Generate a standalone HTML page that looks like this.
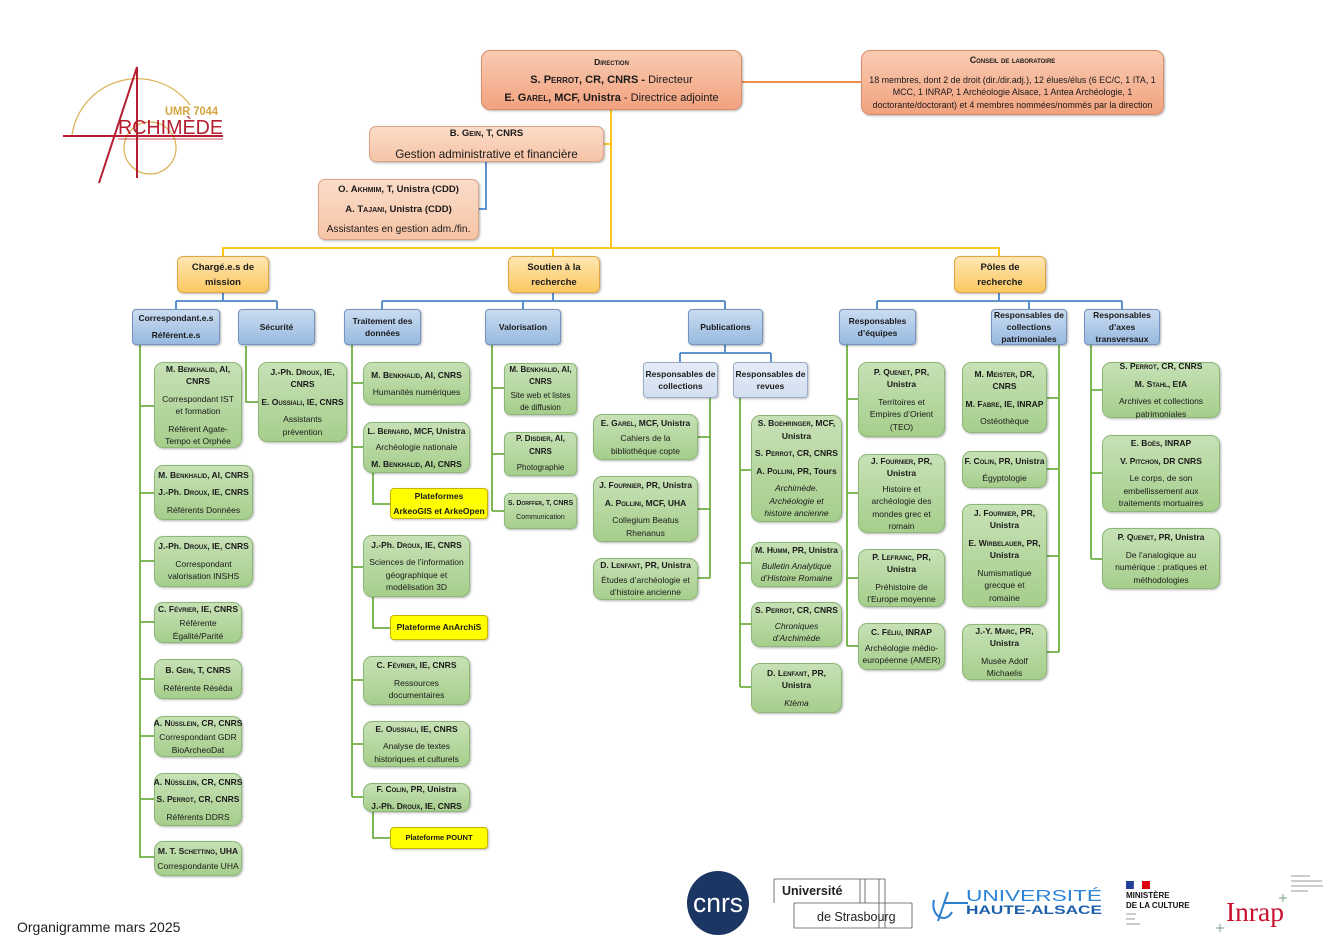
<!DOCTYPE html>
<html><head><meta charset="utf-8">
<style>
html,body{margin:0;padding:0;background:#fff}
#pg{position:relative;width:1340px;height:948px;overflow:hidden;background:#fff;font-family:"Liberation Sans",sans-serif;color:#1a1a1a}
.box{position:absolute;box-sizing:border-box;display:flex;flex-direction:column;justify-content:center;align-items:center;text-align:center;white-space:nowrap;padding:0 1px}
.box p{margin:0;line-height:12.5px;font-size:8.5px}
.box p+p{margin-top:5px}
.sc{font-variant:small-caps}
.g{background:linear-gradient(#c7e1b6,#a6ce8c);border:1px solid #8cb877;border-radius:9px;box-shadow:1px 1px 2px rgba(0,0,0,.3)}
.b{background:linear-gradient(#cadcf1,#98b9e0);border:1px solid #7393c0;border-radius:4px;box-shadow:1px 1px 2px rgba(0,0,0,.3);font-weight:bold}
.b p{font-size:8.5px;line-height:12.5px}
.lb{background:linear-gradient(#e4ebf6,#d3dff0);border:1px solid #98abc9;border-radius:4px;box-shadow:1px 1px 2px rgba(0,0,0,.25);font-weight:bold}
.o{background:linear-gradient(#fee6b2,#fbc861);border:1px solid #e0a646;border-radius:6px;box-shadow:1px 1px 2px rgba(0,0,0,.3);font-weight:bold}
.o p{font-size:9.5px;line-height:15px}
.y{background:#ffff00;border:1px solid #c8b400;border-radius:4px;box-shadow:1px 1px 2px rgba(0,0,0,.25);font-weight:bold}
.s{background:linear-gradient(#f9cbb2,#f2a27f);border:1px solid #d88e6a;border-radius:9px;box-shadow:1px 1px 2px rgba(0,0,0,.3)}
.s2{background:linear-gradient(#fbdcc9,#f6c4a6);border:1px solid #d9a487;border-radius:7px;box-shadow:1px 1px 2px rgba(0,0,0,.3)}
</style></head><body><div id="pg">

<svg width="1340" height="948" style="position:absolute;left:0;top:0" fill="none">
<path d="M741 82H862" stroke="#ed7d31" stroke-width="1.8"/>
<path d="M611 110V248 M604 144H611 M222 248H1000 M223 248V256 M553 248V256 M999 248V256" stroke="#ffc000" stroke-width="1.8"/>
<path d="M486 162V209H479 M223 293V301 M176 301H277 M176 301V310 M277 301V310 M553 293V301 M382 301H725 M382 301V310 M523 301V310 M725 301V310 M999 293V301 M877 301H1122 M877 301V310 M1029 301V310 M1122 301V310 M725 345V353 M680 353H771 M680 353V362 M771 353V362" stroke="#4a86c8" stroke-width="1.8"/>
<path d="M140 345V858 M140 406H154 M140 493H154 M140 561H154 M140 622H154 M140 679H154 M140 736H154 M140 799H154 M140 857H154
M246 346V402H258
M352 345V797 M352 383H363 M352 447H363 M352 567H363 M352 680H363 M352 744H363 M352 797H363
M373 473V504H390 M373 597V628H390 M373 812V838H390
M492 345V511 M492 388H504 M492 454H504 M492 511H504
M710 398V578 M698 437H710 M698 509H710 M698 578H710
M740 398V687 M740 470H751 M740 563H751 M740 624H751 M740 687H751
M847 345V646 M847 399H858 M847 493H858 M847 578H858 M847 646H858
M1059 345V652 M1047 398H1059 M1047 469H1059 M1047 556H1059 M1047 652H1059
M1091 345V559 M1091 390H1102 M1091 473H1102 M1091 559H1102" stroke="#6fb043" stroke-width="1.8"/>

<!-- logo -->
<path d="M72 135 A66 66 0 0 1 190 105" stroke="#dcb45a" stroke-width="1.3"/>
<circle cx="150" cy="148" r="26" stroke="#dcb45a" stroke-width="1.3"/>
<path d="M99 183 L137 67 V178 M63 136 H223" stroke="#b51d30" stroke-width="2"/>
<path d="M118 139 H223" stroke="#b51d30" stroke-width="0.8"/>
<text x="165" y="115" font-family="Liberation Sans" font-weight="bold" font-size="12" fill="#d6a640" textLength="53" lengthAdjust="spacingAndGlyphs">UMR 7044</text>
<text x="118" y="134" font-family="Liberation Sans" font-size="20" fill="#b51d30" textLength="105" lengthAdjust="spacingAndGlyphs">RCHIMÈDE</text>

<!-- bottom logos -->
<ellipse cx="718" cy="903" rx="31" ry="32" fill="#1c3664"/>
<text x="718" y="912" text-anchor="middle" font-family="Liberation Sans" font-size="27" fill="#fff" textLength="50" lengthAdjust="spacingAndGlyphs">cnrs</text>
<path d="M774 879H885 M774 879V903 M794 903V928 M860 879V903 M865 879V903 M879 879V928 M885 879V928 M794 903H912 M794 928H912 M912 903V928" stroke="#555" stroke-width="0.8"/>
<text x="782" y="895" font-family="Liberation Sans" font-weight="bold" font-size="12.5" fill="#222">Université</text>
<text x="817" y="921" font-family="Liberation Sans" font-size="12.5" fill="#222">de Strasbourg</text>
<path d="M934 900 C930 915 945 925 952 912 M948 892 L938 921 M944 903 H968" stroke="#2c7fd0" stroke-width="2"/>
<text x="966" y="901" font-family="Liberation Sans" font-size="16" fill="#2c84d8" textLength="136" lengthAdjust="spacingAndGlyphs">UNIVERSITÉ</text>
<text x="966" y="914" font-family="Liberation Sans" font-weight="bold" font-size="11.5" fill="#1d5fa8" textLength="136" lengthAdjust="spacingAndGlyphs">HAUTE-ALSACE</text>
<rect x="1126" y="881" width="8" height="8" fill="#1f3f99"/><rect x="1134" y="881" width="8" height="8" fill="#fff" stroke="#ddd" stroke-width=".3"/><rect x="1142" y="881" width="8" height="8" fill="#e1000f"/>
<text x="1126" y="898" font-family="Liberation Sans" font-weight="bold" font-size="8" fill="#111">MINISTÈRE</text>
<text x="1126" y="908" font-family="Liberation Sans" font-weight="bold" font-size="8" fill="#111">DE LA CULTURE</text>
<path d="M1126 914H1136 M1126 919H1135 M1126 924H1140" stroke="#999" stroke-width="1"/>
<text x="1226" y="921" font-family="Liberation Serif" font-size="27" fill="#c8102e" textLength="58" lengthAdjust="spacingAndGlyphs">Inrap</text>
<path d="M1291 876H1310 M1291 881H1322 M1291 886H1323 M1291 891H1308" stroke="#999" stroke-width="1"/>
<path d="M1283 894V902 M1279 898H1287 M1220 924V932 M1216 928H1224" stroke="#7aa08a" stroke-width="1"/>
</svg>

<!-- top -->
<div class="box s" style="left:481px;top:50px;width:261px;height:60px">
<p style="font-size:8.5px;line-height:18px;font-weight:bold"><span class="sc">Direction</span></p>
<p style="font-size:11px;line-height:18px;margin-top:0"><b>S. <span class="sc">Perrot</span>, CR, CNRS -</b> Directeur</p>
<p style="font-size:11px;line-height:18px;margin-top:0"><b>E. <span class="sc">Garel</span>, MCF, Unistra</b> - Directrice adjointe</p>
</div>
<div class="box s" style="left:861px;top:50px;width:303px;height:65px">
<p style="font-size:9px;font-weight:bold"><span class="sc">Conseil de laboratoire</span></p>
<p style="font-size:8.9px;margin-top:7px">18 membres, dont 2 de droit (dir./dir.adj.), 12 élues/élus (6 EC/C, 1 ITA, 1<br>MCC, 1 INRAP, 1 Archéologie Alsace, 1 Antea Archéologie, 1<br>doctorante/doctorant) et 4 membres nommées/nommés par la direction</p>
</div>
<div class="box s2" style="left:369px;top:126px;width:235px;height:36px">
<p style="font-size:9.5px;line-height:12px;font-weight:bold">B. <span class="sc">Gein</span>, T, CNRS</p>
<p style="font-size:11.7px;line-height:13px;margin-top:8px">Gestion administrative et financière</p>
</div>
<div class="box s2" style="left:318px;top:179px;width:161px;height:61px">
<p style="font-size:9.5px;line-height:20px;font-weight:bold">O. <span class="sc">Akhmim</span>, T, Unistra (CDD)</p>
<p style="font-size:9.5px;line-height:20px;margin-top:0;font-weight:bold">A. <span class="sc">Tajani</span>, Unistra (CDD)</p>
<p style="font-size:10.2px;line-height:20px;margin-top:0">Assistantes en gestion adm./fin.</p>
</div>

<!-- orange -->
<div class="box o" style="left:177px;top:256px;width:92px;height:37px"><p>Chargé.e.s de<br>mission</p></div>
<div class="box o" style="left:508px;top:256px;width:92px;height:37px"><p>Soutien à la<br>recherche</p></div>
<div class="box o" style="left:954px;top:256px;width:92px;height:37px"><p>Pôles de<br>recherche</p></div>

<!-- blue -->
<div class="box b" style="left:132px;top:309px;width:88px;height:36px"><p style="line-height:17px">Correspondant.e.s<br>Référent.e.s</p></div>
<div class="box b" style="left:238px;top:309px;width:77px;height:36px"><p>Sécurité</p></div>
<div class="box b" style="left:344px;top:309px;width:77px;height:36px"><p>Traitement des<br>données</p></div>
<div class="box b" style="left:485px;top:309px;width:76px;height:36px"><p>Valorisation</p></div>
<div class="box b" style="left:688px;top:309px;width:75px;height:36px"><p>Publications</p></div>
<div class="box b" style="left:839px;top:309px;width:77px;height:36px"><p>Responsables<br>d’équipes</p></div>
<div class="box b" style="left:991px;top:309px;width:76px;height:36px"><p style="line-height:12px">Responsables de<br>collections<br>patrimoniales</p></div>
<div class="box b" style="left:1084px;top:309px;width:76px;height:36px"><p style="line-height:12px">Responsables<br>d’axes<br>transversaux</p></div>
<div class="box lb" style="left:643px;top:362px;width:75px;height:36px"><p>Responsables de<br>collections</p></div>
<div class="box lb" style="left:733px;top:362px;width:75px;height:36px"><p>Responsables de<br>revues</p></div>

<!-- Correspondants -->
<div class="box g" style="left:154px;top:362px;width:88px;height:86px"><p><b>M. <span class="sc">Benkhalid</span>, AI,<br>CNRS</b></p><p>Correspondant IST<br>et formation</p><p>Référent Agate-<br>Tempo et Orphée</p></div>
<div class="box g" style="left:154px;top:465px;width:99px;height:55px"><p><b>M. <span class="sc">Benkhalid</span>, AI, CNRS</b></p><p><b>J.-Ph. <span class="sc">Droux</span>, IE, CNRS</b></p><p>Référents Données</p></div>
<div class="box g" style="left:154px;top:536px;width:99px;height:51px"><p><b>J.-Ph. <span class="sc">Droux</span>, IE, CNRS</b></p><p>Correspondant<br>valorisation INSHS</p></div>
<div class="box g" style="left:154px;top:602px;width:88px;height:41px"><p><b>C. <span class="sc">Février</span>, IE, CNRS</b></p><p style="margin-top:2px">Référente<br>Égalité/Parité</p></div>
<div class="box g" style="left:154px;top:659px;width:88px;height:40px"><p><b>B. <span class="sc">Gein</span>, T, CNRS</b></p><p>Référente Réséda</p></div>
<div class="box g" style="left:154px;top:716px;width:88px;height:41px"><p><b>A. <span class="sc">Nüsslein</span>, CR, CNRS</b></p><p style="margin-top:2px">Correspondant GDR<br>BioArcheoDat</p></div>
<div class="box g" style="left:154px;top:773px;width:88px;height:53px"><p><b>A. <span class="sc">Nüsslein</span>, CR, CNRS</b></p><p><b>S. <span class="sc">Perrot</span>, CR, CNRS</b></p><p>Référents DDRS</p></div>
<div class="box g" style="left:154px;top:841px;width:88px;height:35px"><p><b>M. T. <span class="sc">Schettino</span>, UHA</b></p><p style="margin-top:2px">Correspondante UHA</p></div>

<!-- Sécurité -->
<div class="box g" style="left:258px;top:362px;width:89px;height:80px"><p><b>J.-Ph. <span class="sc">Droux</span>, IE,<br>CNRS</b></p><p><b>E. <span class="sc">Oussiali</span>, IE, CNRS</b></p><p>Assistants<br>prévention</p></div>

<!-- Traitement -->
<div class="box g" style="left:363px;top:362px;width:107px;height:43px"><p><b>M. <span class="sc">Benkhalid</span>, AI, CNRS</b></p><p>Humanités numériques</p></div>
<div class="box g" style="left:363px;top:422px;width:107px;height:51px"><p><b>L. <span class="sc">Bernard</span>, MCF, Unistra</b></p><p style="margin-top:4px">Archéologie nationale</p><p style="margin-top:4px"><b>M. <span class="sc">Benkhalid</span>, AI, CNRS</b></p></div>
<div class="box y" style="left:390px;top:488px;width:98px;height:31px"><p style="line-height:15px">Plateformes<br>ArkeoGIS et ArkeOpen</p></div>
<div class="box g" style="left:363px;top:535px;width:107px;height:62px"><p><b>J.-Ph. <span class="sc">Droux</span>, IE, CNRS</b></p><p>Sciences de l’information<br>géographique et<br>modélisation 3D</p></div>
<div class="box y" style="left:390px;top:615px;width:98px;height:25px"><p>Plateforme AnArchiS</p></div>
<div class="box g" style="left:363px;top:656px;width:107px;height:49px"><p><b>C. <span class="sc">Février</span>, IE, CNRS</b></p><p>Ressources<br>documentaires</p></div>
<div class="box g" style="left:363px;top:721px;width:107px;height:46px"><p><b>E. <span class="sc">Oussiali</span>, IE, CNRS</b></p><p>Analyse de textes<br>historiques et culturels</p></div>
<div class="box g" style="left:363px;top:783px;width:107px;height:29px"><p style="line-height:17px"><b>F. <span class="sc">Colin</span>, PR, Unistra<br>J.-Ph. <span class="sc">Droux</span>, IE, CNRS</b></p></div>
<div class="box y" style="left:390px;top:827px;width:98px;height:22px"><p style="font-size:7.5px">Plateforme POUNT</p></div>

<!-- Valorisation -->
<div class="box g" style="left:504px;top:363px;width:73px;height:52px;border-radius:6px"><p style="font-size:8px;line-height:12px"><b>M. <span class="sc">Benkhalid</span>, AI,<br>CNRS</b></p><p style="font-size:8px;line-height:12px;margin-top:2px">Site web et listes<br>de diffusion</p></div>
<div class="box g" style="left:504px;top:432px;width:73px;height:44px;border-radius:6px"><p style="font-size:8px"><b>P. <span class="sc">Disdier</span>, AI,<br>CNRS</b></p><p style="font-size:8px;margin-top:4px">Photographie</p></div>
<div class="box g" style="left:504px;top:493px;width:73px;height:36px;border-radius:6px"><p style="font-size:7px"><b>S. <span class="sc">Dorffer</span>, T, CNRS</b></p><p style="font-size:7px;margin-top:2px">Communication</p></div>

<!-- Publications collections -->
<div class="box g" style="left:593px;top:414px;width:105px;height:46px"><p><b>E. <span class="sc">Garel</span>, MCF, Unistra</b></p><p style="margin-top:3px">Cahiers de la<br>bibliothèque copte</p></div>
<div class="box g" style="left:593px;top:476px;width:105px;height:66px"><p><b>J. <span class="sc">Fournier</span>, PR, Unistra</b></p><p><b>A. <span class="sc">Pollini</span>, MCF, UHA</b></p><p>Collegium Beatus<br>Rhenanus</p></div>
<div class="box g" style="left:593px;top:558px;width:105px;height:42px"><p><b>D. <span class="sc">Lenfant</span>, PR, Unistra</b></p><p style="margin-top:2px">Études d’archéologie et<br>d’histoire ancienne</p></div>

<!-- Revues -->
<div class="box g" style="left:751px;top:415px;width:91px;height:107px"><p><b>S. <span class="sc">Boehringer</span>, MCF,<br>Unistra</b></p><p><b>S. <span class="sc">Perrot</span>, CR, CNRS</b></p><p><b>A. <span class="sc">Pollini</span>, PR, Tours</b></p><p><i>Archimède.<br>Archéologie et<br>histoire ancienne</i></p></div>
<div class="box g" style="left:751px;top:542px;width:91px;height:45px"><p><b>M. <span class="sc">Humm</span>, PR, Unistra</b></p><p style="margin-top:3px"><i>Bulletin Analytique<br>d’Histoire Romaine</i></p></div>
<div class="box g" style="left:751px;top:602px;width:91px;height:45px"><p><b>S. <span class="sc">Perrot</span>, CR, CNRS</b></p><p style="margin-top:3px"><i>Chroniques<br>d’Archimède</i></p></div>
<div class="box g" style="left:751px;top:663px;width:91px;height:50px"><p><b>D. <span class="sc">Lenfant</span>, PR,<br>Unistra</b></p><p><i>Ktèma</i></p></div>

<!-- Equipes -->
<div class="box g" style="left:858px;top:362px;width:87px;height:75px"><p><b>P. <span class="sc">Quenet</span>, PR,<br>Unistra</b></p><p>Territoires et<br>Empires d’Orient<br>(TEO)</p></div>
<div class="box g" style="left:858px;top:454px;width:87px;height:79px"><p><b>J. <span class="sc">Fournier</span>, PR,<br>Unistra</b></p><p style="margin-top:3px">Histoire et<br>archéologie des<br>mondes grec et<br>romain</p></div>
<div class="box g" style="left:858px;top:549px;width:87px;height:58px"><p><b>P. <span class="sc">Lefranc</span>, PR,<br>Unistra</b></p><p>Préhistoire de<br>l’Europe moyenne</p></div>
<div class="box g" style="left:858px;top:623px;width:87px;height:47px"><p><b>C. <span class="sc">Féliu</span>, INRAP</b></p><p style="margin-top:3px">Archéologie médio-<br>européenne (AMER)</p></div>

<!-- Collections patrimoniales -->
<div class="box g" style="left:962px;top:362px;width:85px;height:71px"><p><b>M. <span class="sc">Meister</span>, DR,<br>CNRS</b></p><p><b>M. <span class="sc">Fabre</span>, IE, INRAP</b></p><p>Ostéothèque</p></div>
<div class="box g" style="left:962px;top:451px;width:85px;height:37px"><p><b>F. <span class="sc">Colin</span>, PR, Unistra</b></p><p>Égyptologie</p></div>
<div class="box g" style="left:962px;top:504px;width:85px;height:103px"><p><b>J. <span class="sc">Fournier</span>, PR,<br>Unistra</b></p><p><b>E. <span class="sc">Wirbelauer</span>, PR,<br>Unistra</b></p><p>Numismatique<br>grecque et<br>romaine</p></div>
<div class="box g" style="left:962px;top:624px;width:85px;height:56px"><p><b>J.-Y. <span class="sc">Marc</span>, PR,<br>Unistra</b></p><p>Musée Adolf<br>Michaelis</p></div>

<!-- Axes -->
<div class="box g" style="left:1102px;top:362px;width:118px;height:56px"><p><b>S. <span class="sc">Perrot</span>, CR, CNRS</b></p><p><b>M. <span class="sc">Stahl</span>, EfA</b></p><p>Archives et collections<br>patrimoniales</p></div>
<div class="box g" style="left:1102px;top:435px;width:118px;height:77px"><p><b>E. <span class="sc">Boës</span>, INRAP</b></p><p><b>V. <span class="sc">Pitchon</span>, DR CNRS</b></p><p>Le corps, de son<br>embellissement aux<br>traitements mortuaires</p></div>
<div class="box g" style="left:1102px;top:528px;width:118px;height:61px"><p><b>P. <span class="sc">Quenet</span>, PR, Unistra</b></p><p>De l’analogique au<br>numérique : pratiques et<br>méthodologies</p></div>

<div style="position:absolute;left:17px;top:919px;font-size:14px;color:#222;white-space:nowrap">Organigramme mars 2025</div>

</div></body></html>
